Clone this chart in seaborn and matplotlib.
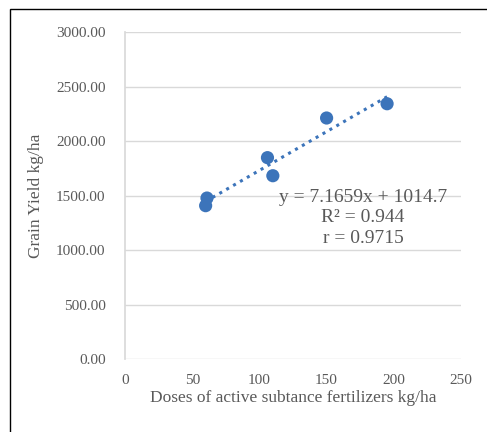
import numpy as np
import pandas as pd
import matplotlib
matplotlib.use("Agg")
import matplotlib.pyplot as plt
import seaborn as sns
from matplotlib.patches import Rectangle

doses = [60, 61, 106, 110, 150, 195]
yield_vals = [1408, 1478, 1849, 1683, 2213, 2344]
x_ticks = [0, 50, 100, 150, 200, 250]
y_ticks = [0, 500, 1000, 1500, 2000, 2500, 3000]
equation_text = "y = 7.1659x + 1014.7\nR² = 0.944\nr = 0.9715"

df = pd.DataFrame({"dose": doses, "yield": yield_vals})

sns.set_theme(style="white")
plt.rcParams['font.family'] = ['Liberation Serif', 'DejaVu Serif']
gray = "#595959"
blue = "#3c74ba"

fig = plt.figure(figsize=(4.87, 4.32), dpi=100)
fig.patches.append(Rectangle((9.5 / 487, -0.1), 2.0, (432 - 9.5) / 432 + 0.1,
                             transform=fig.transFigure, fill=False,
                             edgecolor="#000000", linewidth=1.0))
ax = fig.add_axes([125 / 487, 1 - 359 / 432, 336 / 487, (359 - 32.3) / 432])

sns.regplot(data=df, x="dose", y="yield", ax=ax, ci=None, truncate=True,
            scatter_kws=dict(s=90, color=blue, edgecolor="none", alpha=1, zorder=3),
            line_kws=dict(color=blue, linestyle=(0, (1, 1.6)), linewidth=2.2, zorder=2))

ax.set_xlim(0, 250)
ax.set_ylim(0, 3000)
ax.set_xticks(x_ticks)
ax.set_yticks(y_ticks)
ax.set_xticklabels([str(t) for t in x_ticks])
ax.set_yticklabels([f"{t:.2f}" for t in y_ticks])
ax.yaxis.grid(True, color="#d9d9d9", linewidth=1)
ax.xaxis.grid(False)
for s in ["top", "right", "bottom"]:
    ax.spines[s].set_visible(False)
ax.spines["left"].set_color("#d9d9d9")
ax.tick_params(axis="both", length=0, labelsize=11, labelcolor=gray)
ax.tick_params(axis="y", pad=14)
ax.tick_params(axis="x", pad=11)
ax.set_xlabel("Doses of active subtance fertilizers kg/ha", fontsize=12.5, color=gray, labelpad=2)
ax.set_ylabel("Grain Yield kg/ha", fontsize=12.5, color=gray, labelpad=9)

ax.text(177, 1560, equation_text, ha="center", va="top", fontsize=14,
        color=gray, linespacing=1.25, zorder=4)

fig.savefig("out.png", dpi=100)
